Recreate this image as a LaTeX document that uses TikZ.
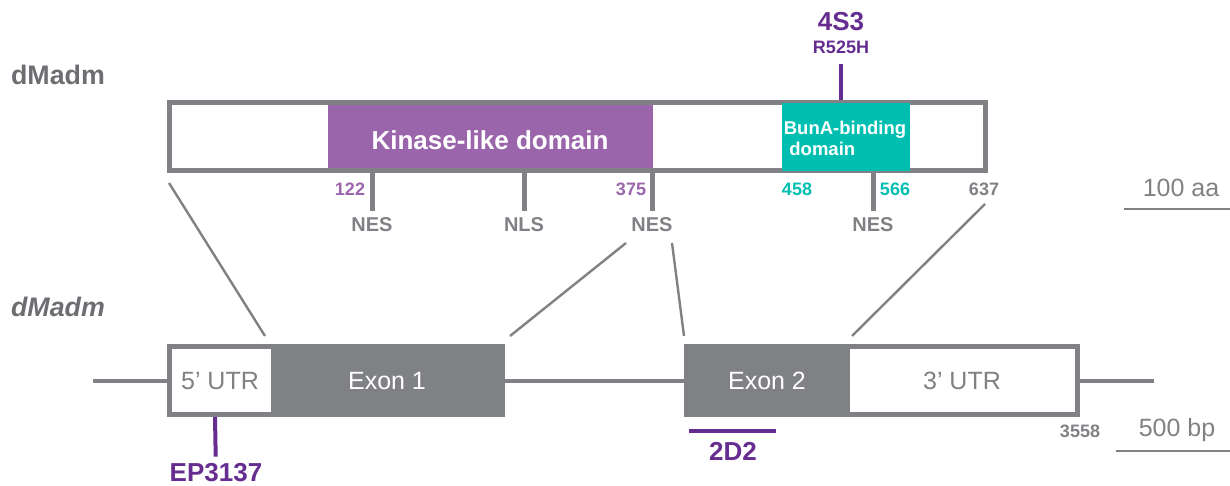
\documentclass[tikz,border=0pt]{standalone}
\usepackage{fontspec}
\setmainfont{Liberation Sans}
\usepackage{tikz}
\usetikzlibrary{positioning}
\definecolor{madgray}{HTML}{808184}
\definecolor{namegray}{HTML}{6D6E71}
\definecolor{kinase}{HTML}{9B65AB}
\definecolor{bunteal}{HTML}{00BFB1}
\definecolor{mutpurple}{HTML}{662D91}

\begin{document}
\begin{tikzpicture}[x=0.5pt, y=-0.5pt,
  tick/.style={madgray, line width=2.5pt},
  link/.style={madgray, line width=1.2pt},
  site/.style={text=madgray, font=\bfseries\fontsize{10}{12}\selectfont},
  aanum/.style={font=\bfseries\fontsize{9}{11}\selectfont, inner sep=1pt},
  mut/.style={text=mutpurple, font=\bfseries\fontsize{13}{15}\selectfont},
  scalebar/.style={text=madgray, font=\fontsize{12.5}{15}\selectfont}]
  \useasboundingbox (0,0) rectangle (1230,486);

  % Protein
  \node[anchor=west, text=namegray, font=\bfseries\fontsize{13.4}{15}\selectfont] (protname) at (4,75) {dMadm};
  \fill[kinase] (328,104) rectangle (653,169);
  \draw[madgray, line width=2.6pt] (169.5,102.5) rectangle (985.5,170.5);
  \fill[bunteal] (782,103) rectangle (910,171);
  \node[text=white, font=\bfseries\fontsize{13}{15}\selectfont] (kin) at (490,140) {Kinase-like domain};
  \node[text=white, align=left, font=\bfseries\fontsize{9.25}{10.5}\selectfont] (buna) at (845,138) {BunA-binding\\\hspace{0.3em}domain};

  % Mutation 4S3
  \node[mut, inner sep=1pt] (m4s3) at (841,22) {4S3};
  \node[mut, font=\bfseries\fontsize{9}{11}\selectfont, inner sep=1pt] (r525h) at (841,47) {R525H};
  \coordinate (c525) at (841,100);
  \draw[mutpurple, line width=2pt] (841,64) -- (c525);

  % Positions
  \node[aanum, text=kinase] (n122) at (350,189) {122};
  \node[aanum, text=kinase] (n375) at (631,189) {375};
  \node[aanum, text=bunteal] (n458) at (797,189) {458};
  \node[aanum, text=bunteal] (n566) at (895,189) {566};
  \node[aanum, text=madgray] (n637) at (984,189) {637};

  % Signals
  \node[site] (nes1) at (372,225) {NES};
  \node[site] (nls) at (524,225) {NLS};
  \node[site] (nes2) at (652,225) {NES};
  \node[site] (nes3) at (873,225) {NES};
  \coordinate (s1) at (372,173);
  \coordinate (s2) at (524,173);
  \coordinate (s3) at (652,173);
  \coordinate (s4) at (873,173);
  \draw[tick] (s1) -- (nes1);
  \draw[tick] (s2) -- (nls);
  \draw[tick] (s3) -- (nes2);
  \draw[tick] (s4) -- (nes3);

  % Scale protein
  \node[scalebar] (aa) at (1181,188) {100 aa};
  \coordinate (aal) at (1124,209);
  \coordinate (aar) at (1230,209);
  \draw[madgray, line width=1.2pt] (aal) -- (aar);

  % Gene
  \node[anchor=west, text=namegray, font=\bfseries\itshape\fontsize{13.4}{15}\selectfont] (genename) at (4,307) {dMadm};
  \draw[madgray, line width=2.3pt] (93,381) -- (1154,381);
  \fill[madgray] (167,344) rectangle (505,417);
  \fill[white] (172,349) rectangle (271,412);
  \fill[madgray] (684,344) rectangle (1080,417);
  \fill[white] (850,349) rectangle (1075,412);
  \node[text=madgray, font=\fontsize{12.5}{15}\selectfont] (utr5) at (220,381) {5’ UTR};
  \node[text=white, font=\fontsize{12.5}{15}\selectfont] (ex1) at (387,381) {Exon 1};
  \node[text=white, font=\fontsize{12.5}{15}\selectfont] (ex2) at (767,381) {Exon 2};
  \node[text=madgray, font=\fontsize{12.5}{15}\selectfont] (utr3) at (962,381) {3’ UTR};

  % Protein to gene
  \coordinate (pa) at (169,183);
  \coordinate (ga) at (265,336);
  \coordinate (pb) at (626,243);
  \coordinate (gb) at (510,336);
  \coordinate (pc) at (672,243);
  \coordinate (gc) at (684,336);
  \coordinate (pd) at (985,204);
  \coordinate (gd) at (852,336);
  \draw[link] (pa) -- (ga);
  \draw[link] (pb) -- (gb);
  \draw[link] (pc) -- (gc);
  \draw[link] (pd) -- (gd);

  % Alleles
  \node[mut] (ep) at (216,473) {EP3137};
  \coordinate (epc) at (215,417);
  \draw[mutpurple, line width=2pt] (epc) -- (ep);
  \node[mut] (d2) at (733,451) {2D2};
  \coordinate (d2l) at (689,431);
  \coordinate (d2r) at (776,431);
  \draw[mutpurple, line width=2.2pt] (d2l) -- (d2r);

  % Scale gene
  \node[aanum, text=madgray] (n3558) at (1080,431) {3558};
  \node[scalebar] (bp) at (1177,430) {500 bp};
  \coordinate (bpl) at (1116,451);
  \coordinate (bpr) at (1230,451);
  \draw[madgray, line width=1.2pt] (bpl) -- (bpr);
\end{tikzpicture}
\end{document}
